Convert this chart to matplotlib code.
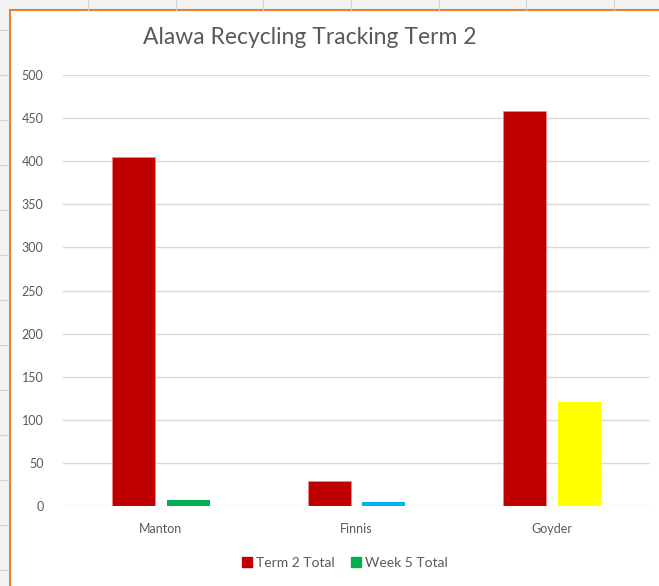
import numpy as np
import matplotlib.pyplot as plt
from matplotlib.patches import Rectangle, Patch

plt.rcParams['font.family'] = ['Lato', 'DejaVu Sans']

# data
houses = ['Manton', 'Finnis', 'Goyder']
term2_total = [405, 29, 458]
week5_total = [7, 5, 121]
week5_colors = ['#00B050', '#00B0F0', '#FFFF00']
yticks = [0, 50, 100, 150, 200, 250, 300, 350, 400, 450, 500]

W, H = 659, 586
fig = plt.figure(figsize=(W / 100, H / 100), dpi=100)
fig.patch.set_facecolor('#F3F3F3')

def px(x, y, w, h):
    # pixel box (top-left origin) -> figure fraction
    return [x / W, 1 - (y + h) / H, w / W, h / H]

# spreadsheet gridlines peeking out behind the chart
for gx in [88, 176, 263, 351, 439, 526, 614]:
    fig.add_artist(plt.Line2D([gx / W, gx / W], [1 - 10 / H, 1], color='#D4D4D4', lw=0.8))
for gy in [30, 75, 120, 165, 210, 255, 300, 345, 390, 435, 480, 525, 570]:
    fig.add_artist(plt.Line2D([0, 9 / W], [1 - gy / H, 1 - gy / H], color='#D4D4D4', lw=0.8))

# chart area with orange border
b = px(10, 10, 660, 600)
fig.add_artist(Rectangle((b[0], b[1]), b[2], b[3], transform=fig.transFigure,
                         facecolor='white', edgecolor='#ED7D31', lw=1.5, zorder=0))

ax = fig.add_axes(px(63, 75, 587, 431))
ax.set_facecolor('none')

x = np.arange(len(houses))
bw = 0.22
ax.bar(x - 0.14, term2_total, bw, color='#C00000', edgecolor='#E88A8A', lw=0.6, zorder=3)
ax.bar(x + 0.14, week5_total, bw, color=week5_colors, edgecolor='none', zorder=3)

ax.set_xlim(-0.5, 2.5)
ax.set_ylim(0, 500)
ax.set_yticks(yticks)
ax.set_xticks(x)
ax.set_xticklabels(houses)
ax.grid(axis='y', color='#D9D9D9', lw=1, zorder=0)
for s in ax.spines.values():
    s.set_visible(False)
ax.tick_params(length=0, colors='#595959', labelsize=9)
ax.tick_params(axis='y', pad=14)
ax.tick_params(axis='x', pad=12)

fig.text(310 / W, 1 - 38 / H, 'Alawa Recycling Tracking Term 2', ha='center', va='center',
         fontsize=16.5, color='#595959')

handles = [Patch(color='#C00000', label='Term 2 Total'),
           Patch(color='#00B050', label='Week 5 Total')]
fig.legend(handles=handles, loc='center', bbox_to_anchor=(345 / W, 1 - 563 / H), ncol=2,
           frameon=False, fontsize=10, labelcolor='#595959', handlelength=0.7,
           handleheight=0.7, handletextpad=0.3, columnspacing=1.2)

fig.savefig('out.png', dpi=100, facecolor=fig.get_facecolor())
